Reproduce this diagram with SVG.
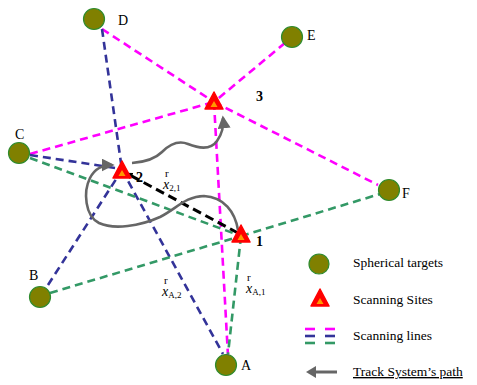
<svg xmlns="http://www.w3.org/2000/svg" width="477" height="385" viewBox="0 0 477 385">
<style>
.ln{fill:none;stroke-width:2.6;stroke-dasharray:8 5}
.m{stroke:#FF00FF}.b{stroke:#333399}.g{stroke:#339966}
.tg{fill:#808000;stroke:#2E8B2E;stroke-width:1.2}
.lab{font-family:"Liberation Serif",serif;font-size:14px;fill:#000}
.num{font-family:"Liberation Serif",serif;font-size:14px;font-weight:bold;fill:#000}
.vec{font-family:"Liberation Serif",serif;font-size:14px;fill:#000}
.vr{font-size:11px}
.vx{font-style:italic}
.sub{font-size:9px;font-style:normal}
.path{fill:none;stroke:#666;stroke-width:2.6}
.leg{font-family:"Liberation Serif",serif;font-size:13.5px;fill:#000}
</style>
<defs>
<marker id="ga" viewBox="0 0 10 10" refX="8" refY="5" markerWidth="5" markerHeight="5" orient="auto" markerUnits="strokeWidth">
<path d="M0,0 L10,5 L0,10 z" fill="#666"/>
</marker>
<marker id="ka" viewBox="0 0 10 10" refX="9" refY="5" markerWidth="2.4" markerHeight="2.4" orient="auto" markerUnits="strokeWidth">
<path d="M0,0 L10,5 L0,10 z" fill="#000"/>
</marker>
<g id="site">
<polygon points="0,-10 9,7 -9,7" fill="#FF0000" stroke="#FF0000" stroke-width="1.5" stroke-linejoin="round"/>
<polygon points="0,-1 3.5,5 -3.5,5" fill="#FF9900"/>
</g>
</defs>

<g id="connectors">
<!-- magenta -->
<line class="ln m" x1="102" y1="29" x2="214" y2="102"/>
<line class="ln m" x1="285" y1="43" x2="214" y2="102"/>
<line class="ln m" x1="30" y1="154" x2="214" y2="102"/>
<line class="ln m" x1="214" y1="102" x2="378" y2="185"/>
<line class="ln m" x1="214" y1="102" x2="228" y2="356"/>
<!-- blue -->
<line class="ln b" x1="102" y1="29" x2="122" y2="170"/>
<line class="ln b" x1="30" y1="155" x2="122" y2="169"/>
<line class="ln b" x1="48" y1="285" x2="122" y2="170"/>
<line class="ln b" x1="122" y1="170" x2="223" y2="354"/>
<!-- green -->
<line class="ln g" x1="30" y1="158" x2="241" y2="236"/>
<line class="ln g" x1="50" y1="293" x2="241" y2="236"/>
<line class="ln g" x1="241" y1="236" x2="380" y2="194"/>
<line class="ln g" x1="241" y1="236" x2="228" y2="354"/>
<!-- black vector -->
<line x1="238" y1="233" x2="126" y2="173" stroke="#000" stroke-width="3" stroke-dasharray="9 5" marker-end="url(#ka)"/>
<!-- track path -->
<path class="path" d="M238,230 C235,212 224,197 204,196 C186,196 176,209 160,217 C140,226 114,230 99,223 C85,216 83,192 90,178 C95,168 103,165 112,165" marker-end="url(#ga)"/>
<path class="path" d="M132,163 C146,162 155,159 162,152 C170,144 178,140 188,144 C198,148 210,151 217,141 C222,134 224,127 223,118" marker-end="url(#ga)"/>
</g>

<g id="target-D"><circle class="tg" cx="94" cy="19" r="10.5"/><text class="lab" x="118" y="25">D</text></g>
<g id="target-E"><circle class="tg" cx="292" cy="37" r="10.5"/><text class="lab" x="307" y="40">E</text></g>
<g id="target-C"><circle class="tg" cx="19" cy="153" r="10.5"/><text class="lab" x="15" y="139">C</text></g>
<g id="target-F"><circle class="tg" cx="389" cy="190" r="10.5"/><text class="lab" x="402" y="198">F</text></g>
<g id="target-B"><circle class="tg" cx="40" cy="297" r="10.5"/><text class="lab" x="29" y="280">B</text></g>
<g id="target-A"><circle class="tg" cx="226" cy="365" r="10.5"/><text class="lab" x="241" y="370">A</text></g>

<g id="site-3"><use href="#site" x="214" y="102"/><text class="num" x="256" y="101">3</text></g>
<g id="site-2"><use href="#site" x="122" y="171"/><text class="num" x="136" y="182">2</text></g>
<g id="site-1"><use href="#site" x="241" y="235"/><text class="num" x="256" y="246">1</text></g>

<g id="vec-21"><text class="vec"><tspan class="vr" x="165" y="177">r</tspan><tspan class="vx" x="163" y="189">x</tspan><tspan class="sub" dy="2">2,1</tspan></text></g>
<g id="vec-A2"><text class="vec"><tspan class="vr" x="164" y="284">r</tspan><tspan class="vx" x="162" y="296">x</tspan><tspan class="sub" dy="2">A,2</tspan></text></g>
<g id="vec-A1"><text class="vec"><tspan class="vr" x="247" y="281">r</tspan><tspan class="vx" x="246" y="293">x</tspan><tspan class="sub" dy="2">A,1</tspan></text></g>

<g id="legend">
<circle class="tg" cx="319" cy="264" r="10"/>
<text class="leg" x="353" y="267">Spherical targets</text>
<use href="#site" x="320" y="299"/>
<text class="leg" x="353" y="304">Scanning Sites</text>
<g stroke-width="2.6">
<line x1="305" y1="329" x2="315" y2="329" stroke="#FF00FF"/><line x1="325" y1="329" x2="335" y2="329" stroke="#FF00FF"/>
<line x1="305" y1="336" x2="315" y2="336" stroke="#333399"/><line x1="325" y1="336" x2="335" y2="336" stroke="#333399"/>
<line x1="305" y1="343" x2="315" y2="343" stroke="#339966"/><line x1="325" y1="343" x2="335" y2="343" stroke="#339966"/>
</g>
<text class="leg" x="353" y="340">Scanning lines</text>
<line x1="337" y1="372" x2="312" y2="372" stroke="#666" stroke-width="3"/>
<polygon points="306,372 316,366 316,378" fill="#666"/>
<text class="leg" x="353" y="376" text-decoration="underline">Track System’s path</text>
</g>
</svg>
